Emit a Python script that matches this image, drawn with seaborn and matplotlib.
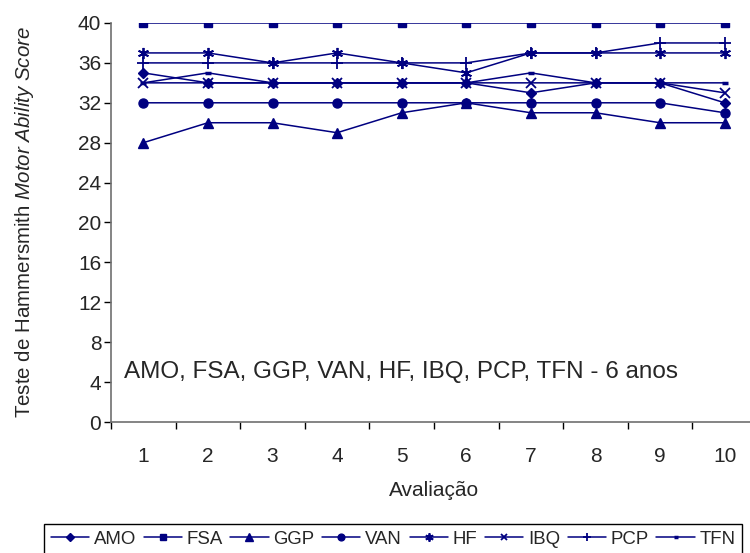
import matplotlib
matplotlib.use("Agg")
import matplotlib.pyplot as plt
from matplotlib.lines import Line2D
import seaborn as sns
import pandas as pd

avaliacao = [1, 2, 3, 4, 5, 6, 7, 8, 9, 10]
AMO = [35, 34, 34, 34, 34, 34, 33, 34, 34, 32]
FSA = [40, 40, 40, 40, 40, 40, 40, 40, 40, 40]
GGP = [28, 30, 30, 29, 31, 32, 31, 31, 30, 30]
VAN = [32, 32, 32, 32, 32, 32, 32, 32, 32, 31]
HF = [37, 37, 36, 37, 36, 35, 37, 37, 37, 37]
IBQ = [34, 34, 34, 34, 34, 34, 34, 34, 34, 33]
PCP = [36, 36, 36, 36, 36, 36, 37, 37, 38, 38]
TFN = [34, 35, 34, 34, 34, 34, 35, 34, 34, 34]

series_names = ["AMO", "FSA", "GGP", "VAN", "HF", "IBQ", "PCP", "TFN"]
series_vals = [AMO, FSA, GGP, VAN, HF, IBQ, PCP, TFN]
y_ticks = [0, 4, 8, 12, 16, 20, 24, 28, 32, 36, 40]

rows = []
for name, vals in zip(series_names, series_vals):
    for x, v in zip(avaliacao, vals):
        rows.append({"Avaliação": x, "Score": v, "Serie": name})
df = pd.DataFrame(rows)

sns.set_style("white")
plt.rcParams["font.family"] = ["Liberation Sans", "DejaVu Sans"]
plt.rcParams["mathtext.fontset"] = "custom"
plt.rcParams["mathtext.it"] = "Liberation Sans:italic"
plt.rcParams["mathtext.rm"] = "Liberation Sans"

navy = "#000080"
markers = {"AMO": "D", "FSA": "s", "GGP": "^", "VAN": "o",
           "HF": (6, 2, 0), "IBQ": "x", "PCP": "+", "TFN": "_"}
sizes = {"AMO": 5.5, "FSA": 6, "GGP": 7.5, "VAN": 6.5,
         "HF": 8, "IBQ": 6.5, "PCP": 8, "TFN": 4.5}
mews = {"AMO": 1, "FSA": 1, "GGP": 1, "VAN": 1,
        "HF": 1.3, "IBQ": 1.3, "PCP": 1.3, "TFN": 2.5}

fig = plt.figure(figsize=(7.5, 5.53), dpi=100)
ax = fig.add_axes([111 / 750, 1 - 422 / 553, (757 - 111) / 750, (422 - 23) / 553])

for name in series_names:
    sub = df[df["Serie"] == name]
    sns.lineplot(data=sub, x="Avaliação", y="Score", ax=ax, color=navy,
                 marker=markers[name], markersize=sizes[name],
                 markeredgecolor=navy, markerfacecolor=navy,
                 markeredgewidth=mews[name], linewidth=1.1, legend=False)

ax.set_xlim(0.5, 10.5)
ax.set_ylim(0, 40)
ax.set_yticks(y_ticks)
ax.set_xticks([i + 0.5 for i in range(0, 11)])
ax.set_xticklabels([])
ax.set_xticks(avaliacao, minor=True)
ax.set_xticklabels([str(a) for a in avaliacao], minor=True)
ax.tick_params(axis="x", which="major", length=5, width=1, color="black", direction="out", bottom=True)
ax.tick_params(axis="x", which="minor", length=0, labelsize=15, pad=18)
ax.tick_params(axis="y", length=5, width=1, color="black", direction="out", left=True,
               labelsize=15, pad=2)
for s in ["top", "right"]:
    ax.spines[s].set_visible(False)
for s in ["left", "bottom"]:
    ax.spines[s].set_color("#707070")
    ax.spines[s].set_linewidth(1.2)

ax.set_xlabel("Avaliação", fontsize=15, labelpad=11)
ax.set_ylabel(r"Teste de Hammersmith $\it{Motor\ Ability\ Score}$", fontsize=14.8, labelpad=30)

ax.text(0.70, 5.0, "AMO, FSA, GGP, VAN, HF, IBQ, PCP, TFN - 6 anos",
        fontsize=17.5, va="center", ha="left")

handles = [Line2D([0], [0], color=navy, linewidth=1.1, marker=markers[n],
                  markersize=sizes[n] * 0.75, markerfacecolor=navy, markeredgecolor=navy,
                  markeredgewidth=mews[n]) for n in series_names]
ax.legend(handles, series_names, loc="upper left", bbox_to_anchor=(44 / 750, 1 - 524 / 553),
          bbox_transform=fig.transFigure, ncol=8, frameon=True, fancybox=False,
          edgecolor="black", framealpha=1, fontsize=13.4, handlelength=2.05,
          handletextpad=0.27, columnspacing=0.4, borderaxespad=0, borderpad=0.35)
leg = ax.get_legend()
leg.get_frame().set_linewidth(1.0)

fig.savefig("out.png", dpi=100)
